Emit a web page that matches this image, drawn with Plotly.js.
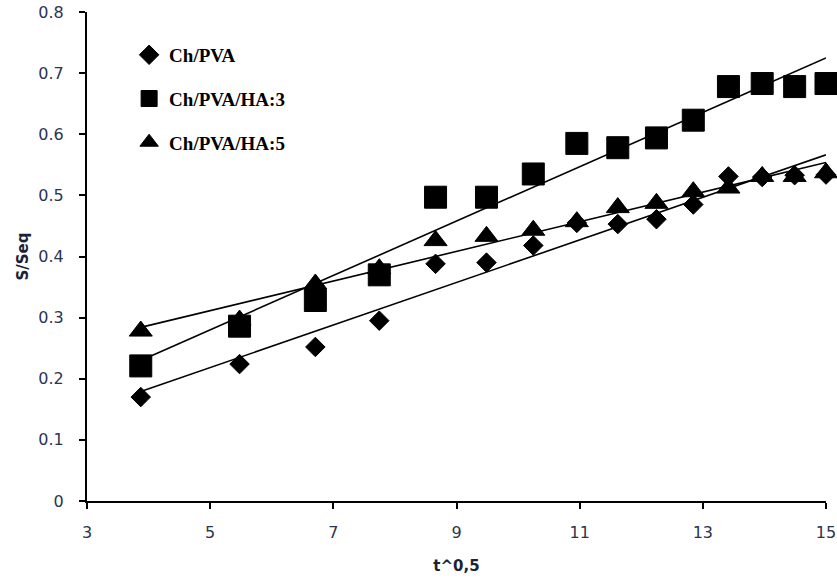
<!DOCTYPE html>
<html>
<head>
<meta charset="utf-8">
<script src="https://cdn.plot.ly/plotly-3.0.1.min.js"></script>
<style>html,body{margin:0;padding:0;background:#fff;}#chart{width:837px;height:580px;}</style>
</head>
<body>
<div id="chart"></div>
<script>
// t^0.5 values (x)
const tSqrt = [3.873, 5.477, 6.708, 7.746, 8.660, 9.487, 10.247, 10.954, 11.619, 12.247, 12.845, 13.416, 13.964, 14.491, 15.000];
// S/Seq per sample
const chPva     = [0.170, 0.224, 0.252, 0.295, 0.388, 0.390, 0.418, 0.455, 0.453, 0.461, 0.485, 0.531, 0.530, 0.533, 0.534];
const chPvaHa3  = [0.221, 0.286, 0.328, 0.370, 0.497, 0.497, 0.535, 0.585, 0.578, 0.594, 0.623, 0.678, 0.683, 0.678, 0.683];
const chPvaHa5  = [0.278, 0.296, 0.355, 0.380, 0.426, 0.433, 0.443, 0.457, 0.480, 0.487, 0.506, 0.512, 0.531, 0.531, 0.537];
const seriesNames = ['Ch/PVA', 'Ch/PVA/HA:3', 'Ch/PVA/HA:5'];
const xTicks = [3, 5, 7, 9, 11, 13, 15];
const yTicks = [0, 0.1, 0.2, 0.3, 0.4, 0.5, 0.6, 0.7, 0.8];

function linFit(xs, ys) {
  const n = xs.length;
  let sx = 0, sy = 0, sxx = 0, sxy = 0;
  for (let i = 0; i < n; i++) { sx += xs[i]; sy += ys[i]; sxx += xs[i]*xs[i]; sxy += xs[i]*ys[i]; }
  const b = (n*sxy - sx*sy) / (n*sxx - sx*sx);
  const a = (sy - b*sx) / n;
  const x0 = Math.min(...xs), x1 = Math.max(...xs);
  return {x: [x0, x1], y: [a + b*x0, a + b*x1]};
}

const seriesData = [chPva, chPvaHa3, chPvaHa5];
const symbols = ['diamond', 'square', 'triangle-up'];
const sizes = [15, 22, 20];

const traces = [];
seriesData.forEach((ys, i) => {
  const f = linFit(tSqrt, ys);
  traces.push({
    x: f.x, y: f.y, mode: 'lines', type: 'scatter',
    line: {color: '#000', width: 1.6}, showlegend: false, hoverinfo: 'skip', cliponaxis: false
  });
});
seriesData.forEach((ys, i) => {
  traces.push({
    x: tSqrt, y: ys, mode: 'markers', type: 'scatter', name: seriesNames[i],
    legendgroup: 'g' + i,
    marker: {symbol: symbols[i], size: sizes[i], color: '#000', line: {color: '#000', width: 1}},
    cliponaxis: false
  });
});

const tickFont = {family: '"DejaVu Sans", sans-serif', size: 16, color: '#2b3450'};
const titleFont = {family: '"DejaVu Sans", sans-serif', size: 15, color: '#1c2236', weight: 'bold'};
const layout = {
  width: 837, height: 580,
  margin: {l: 87, r: 11, t: 12, b: 79},
  paper_bgcolor: '#fff', plot_bgcolor: '#fff',
  showlegend: true,
  legend: {
    x: 0.057, y: 0.951, xanchor: 'left', yanchor: 'top',
    font: {family: '"Liberation Serif", "Times New Roman", serif', size: 19, color: '#000', weight: 'bold'},
    tracegroupgap: 16, bgcolor: 'rgba(0,0,0,0)', itemsizing: 'trace'
  },
  xaxis: {
    range: [3, 15], tickvals: xTicks, ticktext: xTicks.map(String),
    showgrid: false, zeroline: false, showline: true, linecolor: '#000', linewidth: 2,
    ticks: 'outside', ticklen: 6, tickwidth: 2, tickcolor: '#000',
    tickfont: tickFont, ticklabelstandoff: 10,
    title: {text: 't^0,5', font: titleFont, standoff: 19}
  },
  yaxis: {
    range: [0, 0.8], tickvals: yTicks, ticktext: yTicks.map(v => String(v)),
    showgrid: false, zeroline: false, showline: true, linecolor: '#000', linewidth: 2,
    ticks: 'outside', ticklen: 6, tickwidth: 2, tickcolor: '#000',
    tickfont: tickFont, ticklabelstandoff: 12,
    title: {text: 'S/Seq', font: titleFont, standoff: 6}
  }
};
Plotly.newPlot('chart', traces, layout, {displayModeBar: false, staticPlot: true});
</script>
</body>
</html>
